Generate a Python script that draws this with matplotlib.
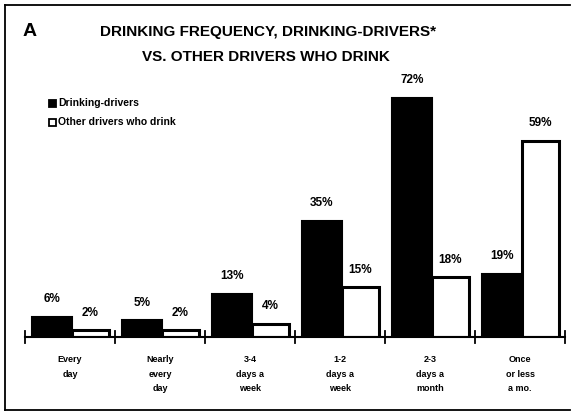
import matplotlib
matplotlib.use("Agg")
import matplotlib.pyplot as plt
from matplotlib.lines import Line2D
from matplotlib.patches import Rectangle

categories = ["Every\nday", "Nearly\nevery\nday", "3-4\ndays a\nweek",
              "1-2\ndays a\nweek", "2-3\ndays a\nmonth", "Once\nor less\na mo."]
drinking_drivers = [6, 5, 13, 35, 72, 19]
other_drivers = [2, 2, 4, 15, 18, 59]
series_names = ["Drinking-drivers", "Other drivers who drink"]

W, H = 571, 415
fig = plt.figure(figsize=(W / 100, H / 100), dpi=100)
fig.patch.set_facecolor("white")

FONT = "Liberation Sans"

# axes: x from 25 to 565 px, baseline at 337 px
ax = fig.add_axes([25 / W, 1 - 337 / H, 540 / W, 332 / H])
ax.set_xlim(0, len(categories))
ax.set_ylim(0, 100)
ax.axis("off")

for i, (a, b) in enumerate(zip(drinking_drivers, other_drivers)):
    ax.bar(i + 0.08, a, width=0.44, align="edge", color="black",
           edgecolor="black", linewidth=1.5)
    ax.bar(i + 0.52, b, width=0.41, align="edge", color="white",
           edgecolor="black", linewidth=2.2)
    ax.text(i + 0.30, a + 3.5, f"{a}%", ha="center", va="bottom",
            fontsize=8.5, fontweight="bold", family=FONT)
    ax.text(i + 0.725, b + 3.5, f"{b}%", ha="center", va="bottom",
            fontsize=8.5, fontweight="bold", family=FONT)
    ax.text(i + 0.5, -5.5, categories[i], ha="center", va="top",
            fontsize=6.5, fontweight="bold", family=FONT, linespacing=1.75)

# baseline with crossing ticks
ax.plot([0, len(categories)], [0, 0], color="black", lw=1.5, clip_on=False)
for i in range(len(categories) + 1):
    ax.plot([i, i], [-1.8, 1.8], color="black", lw=1.3, clip_on=False)

# frame lines (top, left, bottom)
fig.add_artist(Line2D([5 / W, 570 / W], [1 - 5 / H, 1 - 5 / H], color="black", lw=1.3))
fig.add_artist(Line2D([5 / W, 5 / W], [1 - 5 / H, 1 - 410 / H], color="black", lw=1.3))
fig.add_artist(Line2D([5 / W, 570 / W], [1 - 410 / H, 1 - 410 / H], color="black", lw=1.3))

# panel letter and title
fig.text(30 / W, 1 - 32 / H, "A", ha="center", va="center", fontsize=14,
         fontweight="bold", family=FONT)
fig.text(268 / W, 1 - 32 / H, "DRINKING FREQUENCY, DRINKING-DRIVERS*",
         ha="center", va="center", fontsize=11, fontweight="bold", family=FONT)
fig.text(266 / W, 1 - 57 / H, "VS. OTHER DRIVERS WHO DRINK",
         ha="center", va="center", fontsize=11, fontweight="bold", family=FONT)

# legend
for k, (name, fc) in enumerate(zip(series_names, ["black", "white"])):
    y = 103 + k * 19
    fig.add_artist(Rectangle((49 / W, 1 - (y + 4) / H), 7 / W, 7 / H,
                             facecolor=fc, edgecolor="black", lw=1.3))
    fig.text(58 / W, 1 - y / H, name, ha="left", va="center", fontsize=7.5,
             fontweight="bold", family=FONT)

fig.savefig("out.png", dpi=100, facecolor="white")
